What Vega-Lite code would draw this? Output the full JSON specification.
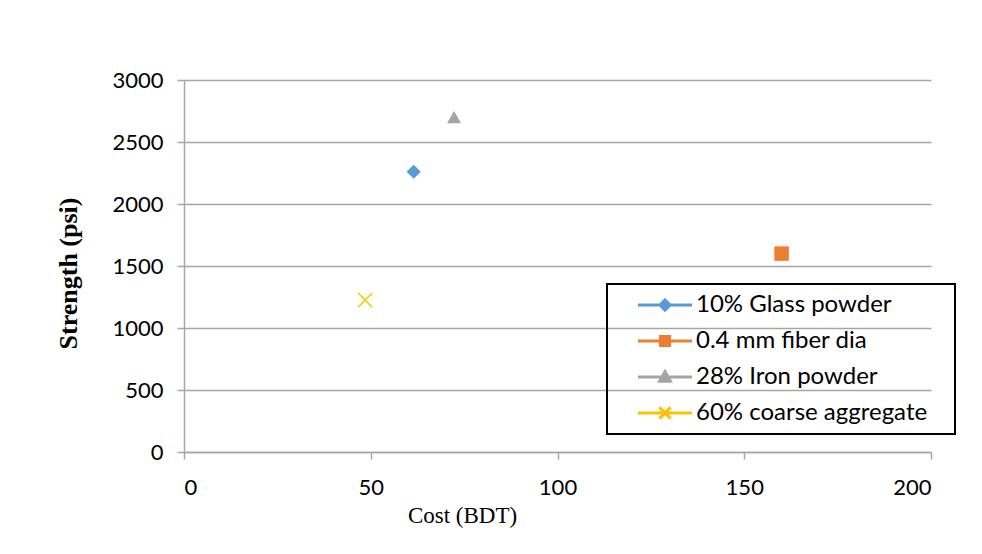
{
  "$schema": "https://vega.github.io/schema/vega-lite/v6.json",
  "autosize": {"type": "none"},
  "padding": {"left": 184, "top": 80, "right": 51, "bottom": 102},
  "width": 747,
  "height": 372,
  "background": "white",
  "config": {
    "view": {"stroke": null},
    "axis": {
      "labelFont": "Lato",
      "labelFontSize": 22,
      "labelColor": "#000000",
      "domainColor": "#a6a6a6",
      "tickColor": "#a6a6a6",
      "gridColor": "#a6a6a6",
      "domainWidth": 1.5,
      "tickWidth": 1.5,
      "gridWidth": 1.5,
      "tickSize": 7,
      "titleColor": "#000000",
      "titleFont": "Liberation Serif"
    },
    "legend": {
      "orient": "none",
      "legendX": 423,
      "legendY": 204,
      "title": null,
      "padding": 9,
      "rowPadding": 12,
      "symbolSize": 196,
      "symbolStrokeWidth": 3,
      "symbolOpacity": 1,
      "labelOffset": 56,
      "labelFont": "Lato",
      "labelFontSize": 24,
      "labelColor": "#000000",
      "labelLimit": 400,
      "strokeColor": "#000000"
    }
  },
  "data": {
    "values": [
      {"series": "10% Glass powder", "cost": 61.5, "strength": 2260},
      {"series": "0.4 mm fiber dia", "cost": 160, "strength": 1600},
      {"series": "28% Iron powder", "cost": 72.3, "strength": 2700},
      {"series": "60% coarse aggregate", "cost": 48.5, "strength": 1225}
    ]
  },
  "encoding": {
    "x": {
      "field": "cost",
      "type": "quantitative",
      "scale": {"domain": [0, 200], "nice": false},
      "axis": {
        "values": [0, 50, 100, 150, 200],
        "format": "d",
        "grid": false,
        "labelPadding": 18,
        "title": "Cost (BDT)",
        "titleFontSize": 23,
        "titleFontWeight": "normal",
        "titleX": 278,
        "titleY": 70,
        "titleAlign": "center",
        "titleBaseline": "alphabetic"
      }
    },
    "y": {
      "field": "strength",
      "type": "quantitative",
      "scale": {"domain": [0, 3000], "nice": false},
      "axis": {
        "values": [0, 500, 1000, 1500, 2000, 2500, 3000],
        "format": "d",
        "grid": true,
        "labelPadding": 14,
        "title": "Strength (psi)",
        "titleFontSize": 26,
        "titleFontWeight": "bold",
        "titleX": -116,
        "titleY": 193,
        "titleAlign": "center",
        "titleBaseline": "middle",
        "titleAngle": -90
      }
    }
  },
  "layer": [
    {
      "mark": {"type": "point", "filled": false, "opacity": 0, "size": 10},
      "encoding": {
        "color": {
          "field": "series",
          "type": "nominal",
          "scale": {
            "domain": ["10% Glass powder", "0.4 mm fiber dia", "28% Iron powder", "60% coarse aggregate"],
            "range": ["#5B9BD5", "#ED7D31", "#A5A5A5", "#FFC000"]
          },
          "legend": {
            "labelExpr": "datum.label + '\u2800'",
            "encoding": {"legend": {"strokeWidth": {"value": 2}}}
          }
        },
        "shape": {
          "field": "series",
          "type": "nominal",
          "scale": {
            "domain": ["10% Glass powder", "0.4 mm fiber dia", "28% Iron powder", "60% coarse aggregate"],
            "range": [
              "M1.43,0H9.14M5.29,-0.72L6.01,0L5.29,0.72L4.57,0Z",
              "M1.43,0H9.14M4.64,-0.64H5.94V0.64H4.64Z",
              "M1.43,0H9.14M5.29,-0.78L6.06,0.6L4.52,0.6Z",
              "M1.43,0H9.14M4.49,-0.8L6.09,0.8M6.09,-0.8L4.49,0.8"
            ]
          },
          "legend": {
            "labelExpr": "datum.label + '\u2800'",
            "encoding": {"legend": {"strokeWidth": {"value": 2}}}
          }
        }
      }
    },
    {
      "transform": [{"filter": "datum.series == '10% Glass powder'"}],
      "mark": {"type": "point", "filled": true, "opacity": 1, "size": 200, "shape": "diamond"},
      "encoding": {"color": {"field": "series", "type": "nominal", "legend": null}}
    },
    {
      "transform": [{"filter": "datum.series == '0.4 mm fiber dia'"}],
      "mark": {"type": "point", "filled": true, "opacity": 1, "size": 210, "shape": "square"},
      "encoding": {"color": {"field": "series", "type": "nominal", "legend": null}}
    },
    {
      "transform": [{"filter": "datum.series == '28% Iron powder'"}],
      "mark": {"type": "point", "filled": true, "opacity": 1, "size": 200, "shape": "triangle-up"},
      "encoding": {"color": {"field": "series", "type": "nominal", "legend": null}}
    },
    {
      "transform": [{"filter": "datum.series == '60% coarse aggregate'"}],
      "mark": {"type": "point", "filled": false, "opacity": 1, "size": 200, "strokeWidth": 1.5, "shape": "M-1,-1L1,1M1,-1L-1,1"},
      "encoding": {"color": {"field": "series", "type": "nominal", "legend": null}}
    }
  ]
}
